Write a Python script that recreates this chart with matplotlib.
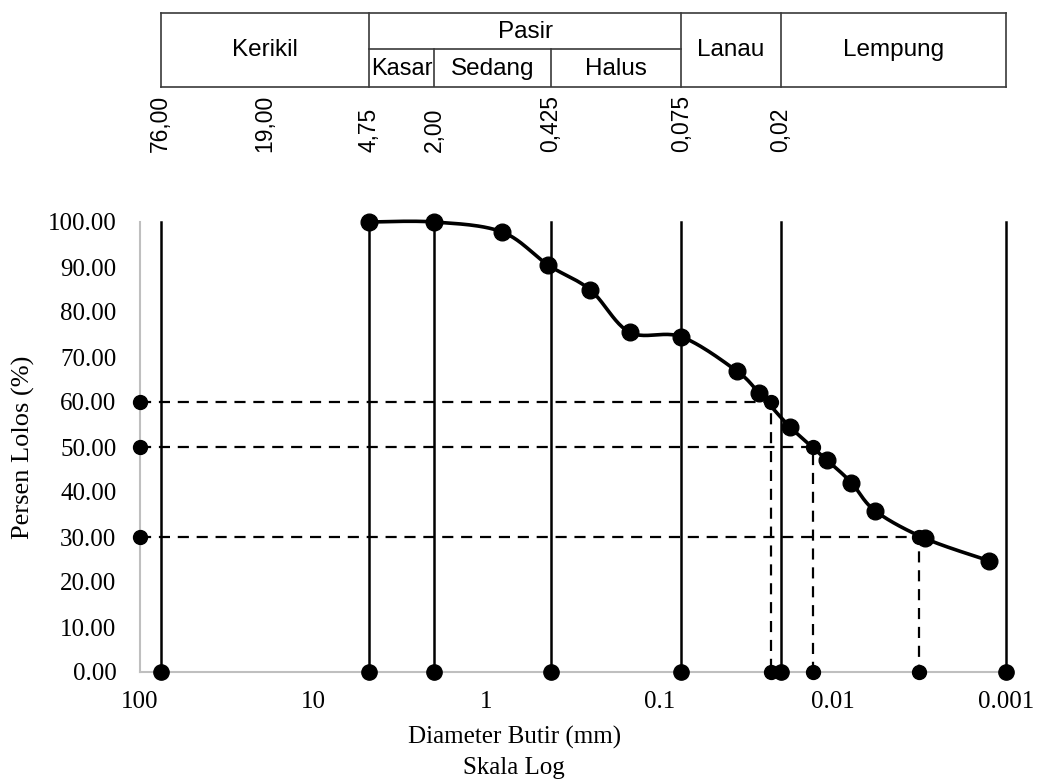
import numpy as np
import matplotlib
matplotlib.use("Agg")
import matplotlib.pyplot as plt

plt.rcParams['font.family'] = 'Liberation Serif'

# hydrometer + sieve results
diameter = [4.75, 2.0, 0.813, 0.439, 0.251, 0.149, 0.075, 0.0359, 0.0265,
            0.0177, 0.0108, 0.00782, 0.00569, 0.00294, 0.00125]
passing = [100, 100, 97.8, 90.4, 84.9, 75.5, 74.5, 66.9, 61.9,
           54.5, 47.1, 42.1, 35.8, 29.7, 24.7]

# sieve boundaries (vertical lines)
sieve_sizes = [76, 4.75, 2.0, 0.425, 0.075, 0.02, 0.001]

# D60, D50, D30
d_percent = [60, 50, 30]
d_size = [0.0228, 0.0130, 0.00317]

# header table
head_sizes = [76, 19, 4.75, 2.0, 0.425, 0.075, 0.02]
head_labels = ["76,00", "19,00", "4,75", "2,00", "0,425", "0,075", "0,02"]


def smooth(xs, ys, n=24):
    # catmull-rom through the points, in log-x space
    pts = np.column_stack([np.log10(xs), ys])
    pad = np.vstack([pts[0], pts, pts[-1]])
    t = np.linspace(0, 1, n, endpoint=False)[:, None]
    out = []
    for i in range(len(pts) - 1):
        p0, p1, p2, p3 = pad[i], pad[i + 1], pad[i + 2], pad[i + 3]
        seg = 0.5 * (2 * p1 + (-p0 + p2) * t
                     + (2 * p0 - 5 * p1 + 4 * p2 - p3) * t ** 2
                     + (-p0 + 3 * p1 - 3 * p2 + p3) * t ** 3)
        out.append(seg)
    out.append(pts[-1:])
    out = np.vstack(out)
    return 10 ** out[:, 0], out[:, 1]


W, H = 1041, 781
fig = plt.figure(figsize=(W / 100, H / 100), dpi=100)
ax = fig.add_axes([140 / W, 1 - 672 / H, 866 / W, 450 / H])

ax.set_xscale('log')
ax.set_xlim(100, 0.001)
ax.set_ylim(0, 100)

# vertical sieve lines with a dot at the foot
for d in sieve_sizes:
    ax.plot([d, d], [0, 100], color='black', lw=1.8, clip_on=False, zorder=2)
    ax.plot([d], [0], 'o', color='black', ms=11, clip_on=False, zorder=4)

# dashed D-lines
for p, d in zip(d_percent, d_size):
    ax.plot([100, d, d], [p, p, 0], color='black', lw=1.6,
            linestyle=(0, (5, 3.5)), marker='o', ms=10,
            clip_on=False, zorder=3)

# grading curve
sx, sy = smooth(diameter, passing)
ax.plot(sx, sy, color='black', lw=2.6, clip_on=False, zorder=5)
ax.plot(diameter, passing, 'o', color='black', ms=12, clip_on=False, zorder=6)

ax.set_yticks(np.arange(0, 101, 10))
ax.set_yticklabels([f"{v:.2f}" for v in np.arange(0, 101, 10)])
ax.set_xticks([100, 10, 1, 0.1, 0.01, 0.001])
ax.set_xticklabels(["100", "10", "1", "0.1", "0.01", "0.001"])
ax.minorticks_off()
ax.tick_params(length=0, labelsize=18)
ax.tick_params(axis='y', pad=17)
ax.tick_params(axis='x', pad=14)

for s in ['top', 'right']:
    ax.spines[s].set_visible(False)
for s in ['left', 'bottom']:
    ax.spines[s].set_color('#bfbfbf')
    ax.spines[s].set_linewidth(1.5)

ax.set_ylabel("Persen Lolos (%)", fontsize=19)
ax.yaxis.label.set_verticalalignment('center')
ax.yaxis.set_label_coords(-0.135, 0.5)
ax.set_xlabel("Diameter Butir (mm)\nSkala Log", fontsize=18,
              linespacing=1.45)
ax.xaxis.set_label_coords(0.432, -0.12)
ax.xaxis.label.set_verticalalignment('top')

# header table above the graph
top = fig.add_axes([140 / W, 1 - 87 / H, 866 / W, 74 / H])
top.set_xscale('log')
top.set_xlim(100, 0.001)
top.set_ylim(0, 1)
top.axis('off')

lc = '#3a3a3a'
top.plot([76, 0.001], [0, 0], color=lc, lw=1.2, clip_on=False)
top.plot([76, 0.001], [1, 1], color=lc, lw=1.2, clip_on=False)
for d in [76, 4.75, 0.075, 0.02, 0.001]:
    top.plot([d, d], [0, 1], color=lc, lw=1.2, clip_on=False)
top.plot([4.75, 0.075], [0.51, 0.51], color=lc, lw=1.2)
for d in [2.0, 0.425]:
    top.plot([d, d], [0, 0.51], color=lc, lw=1.2)

hf = dict(family='Liberation Sans', fontsize=17.5, ha='center', va='center')
top.text(np.sqrt(76 * 4.75), 0.5, "Kerikil", **hf)
top.text(np.sqrt(4.75 * 0.075), 0.74, "Pasir", **hf)
top.text(np.sqrt(4.75 * 2.0), 0.24, "Kasar", **dict(hf, fontsize=17))
top.text(np.sqrt(2.0 * 0.425), 0.24, "Sedang", **hf)
top.text(np.sqrt(0.425 * 0.075), 0.24, "Halus", **hf)
top.text(np.sqrt(0.075 * 0.02), 0.5, "Lanau", **hf)
top.text(np.sqrt(0.02 * 0.001), 0.5, "Lempung", **hf)

for d, lab in zip(head_sizes, head_labels):
    top.text(d, -0.88, lab, rotation=90, ha='center', va='bottom',
             family='Liberation Sans', fontsize=16.5,
             transform=top.get_xaxis_transform())

fig.savefig("out.png", dpi=100)
